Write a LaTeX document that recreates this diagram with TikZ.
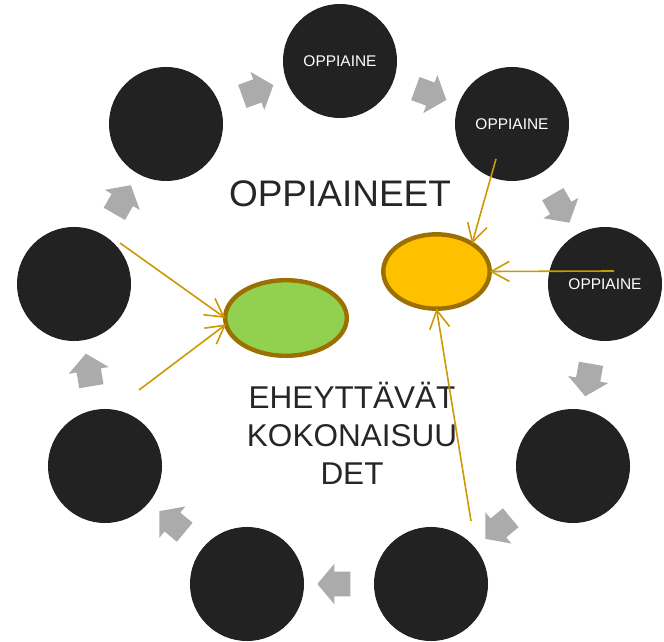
\documentclass[tikz,border=0pt]{standalone}
\usepackage{fontspec}
\setmainfont{Liberation Sans}
\usetikzlibrary{shapes.arrows,shapes.geometric,arrows.meta}
\definecolor{ringfill}{HTML}{222222}
\definecolor{cyclegray}{HTML}{ABABAB}
\definecolor{linkgold}{RGB}{204,153,0}
\definecolor{rimbrown}{HTML}{9C7000}
\definecolor{fillorange}{HTML}{FFC000}
\definecolor{fillgreen}{HTML}{92D050}
\definecolor{labelgray}{HTML}{262626}

\begin{document}
\begin{tikzpicture}[x=0.025cm,y=-0.025cm,inner sep=0pt,outer sep=0pt,
ring/.style={circle,fill=ringfill,minimum size=28.5mm,text=white,font=\fontsize{11}{13}\selectfont},
cycarrow/.style={single arrow,fill=cyclegray,sloped,allow upside down,inner xsep=0pt,inner ysep=3mm,minimum height=8.25mm,single arrow head extend=2mm,single arrow tip angle=100},
blob/.style={ellipse,draw=rimbrown,line width=1.1mm},
link/.style={->,draw=linkgold,line width=0.4mm},
>={Straight Barb[length=4.5mm,width=5mm]}]
\useasboundingbox (0,0) rectangle (664,642);

\draw (340,61) node[ring] (c1) {OPPIAINE};
\draw (512,124) node[ring] (c2) {OPPIAINE};
\draw (605,284) node[ring] (c3) {OPPIAINE};
\draw (573,466) node[ring] (c4) {};
\draw (431,584) node[ring] (c5) {};
\draw (247,584) node[ring] (c6) {};
\draw (105,466) node[ring] (c7) {};
\draw (74,284) node[ring] (c8) {};
\draw (166,124) node[ring] (c9) {};

\path (c9) -- node[cycarrow] {} (c1);
\path (c1) -- node[cycarrow] {} (c2);
\path (c2) -- node[cycarrow] {} (c3);
\path (c3) -- node[cycarrow] {} (c4);
\path (c4) -- node[cycarrow] {} (c5);
\path (c5) -- node[cycarrow] {} (c6);
\path (c6) -- node[cycarrow] {} (c7);
\path (c7) -- node[cycarrow] {} (c8);
\path (c8) -- node[cycarrow] {} (c9);

\draw (340,194) node[text=labelgray,font=\fontsize{26.3}{30}\selectfont] (core) {OPPIAINEET};
\draw (352,433) node[text=labelgray,align=center,font=\fontsize{22.4}{27}\selectfont] (whole) {EHEYTTÄVÄT\\KOKONAISUU\\DET};

\draw (436.5,271.5) node[blob,fill=fillorange,minimum width=26.6mm,minimum height=18.6mm] (subj) {};
\draw (286,318) node[blob,fill=fillgreen,minimum width=30.4mm,minimum height=18.9mm] (theme) {};

\coordinate (s2) at (496,159);
\coordinate (s3) at (614,271);
\coordinate (s5) at (471,521);
\coordinate (s8) at (120,243);
\coordinate (s7) at (139,390);
\draw[link] (s2) -- (subj.38);
\draw[link] (s3) -- (subj.0);
\draw[link] (s5) -- (subj.270);
\draw[link] (s8) -- (theme.180);
\draw[link] (s7) -- (theme.186);
\end{tikzpicture}
\end{document}
